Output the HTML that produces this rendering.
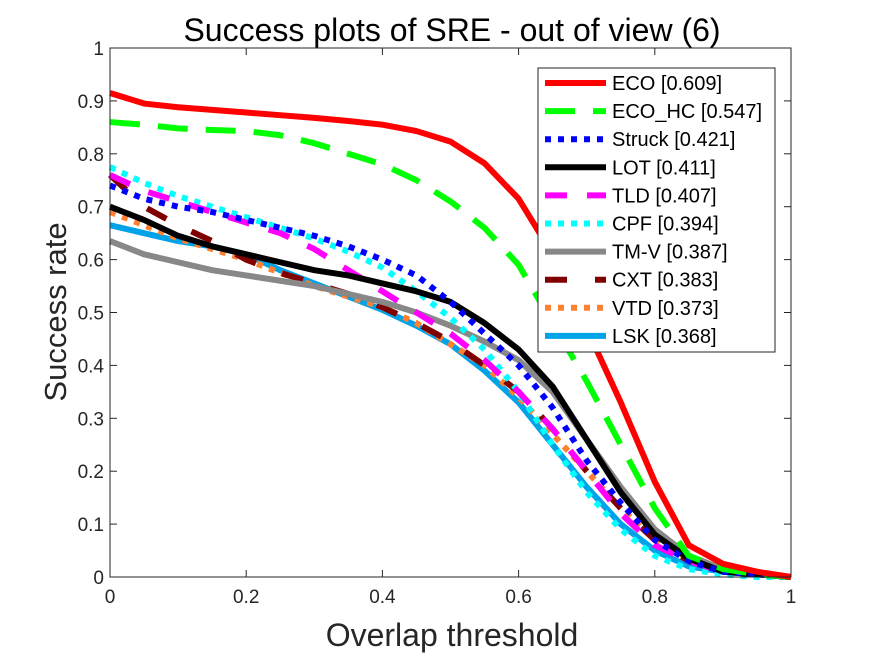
<!DOCTYPE html>
<html><head><meta charset="utf-8"><style>
body{margin:0;background:#fff}
svg text{font-family:"Liberation Sans",sans-serif}
</style></head><body>
<svg id="chart" width="875" height="656" xmlns="http://www.w3.org/2000/svg">
<rect width="875" height="656" fill="#fff"/>
<text x="452" y="41" font-size="32" text-anchor="middle">Success plots of SRE - out of view (6)</text>
<g id="ticks"></g>
<g id="series"></g>
<rect x="110" y="48" width="681" height="529" fill="none" stroke="#262626" stroke-width="1"/>
<text x="452" y="646" font-size="32" text-anchor="middle" fill="#262626">Overlap threshold</text>
<text transform="translate(66,312) rotate(-90)" font-size="31" text-anchor="middle" fill="#262626">Success rate</text>
<g id="legend"></g>
</svg>
<script>
const thresholds=[0,0.05,0.1,0.15,0.2,0.25,0.3,0.35,0.4,0.45,0.5,0.55,0.6,0.65,0.7,0.75,0.8,0.85,0.9,0.95,1];
const names=["ECO [0.609]","ECO_HC [0.547]","Struck [0.421]","LOT [0.411]","TLD [0.407]","CPF [0.394]","TM-V [0.387]","CXT [0.383]","VTD [0.373]","LSK [0.368]"];
const ecoVals=[0.915,0.895,0.888,0.883,0.878,0.873,0.868,0.862,0.855,0.843,0.823,0.782,0.715,0.61,0.47,0.33,0.18,0.06,0.025,0.01,0];
const ecohcVals=[0.86,0.855,0.848,0.845,0.843,0.835,0.82,0.8,0.78,0.75,0.71,0.66,0.59,0.48,0.37,0.25,0.13,0.04,0.015,0.005,0];
const struckVals=[0.74,0.715,0.7,0.69,0.675,0.66,0.645,0.625,0.6,0.57,0.52,0.46,0.4,0.32,0.22,0.14,0.07,0.03,0.01,0.005,0];
const lotVals=[0.7,0.675,0.645,0.625,0.61,0.595,0.58,0.57,0.555,0.54,0.52,0.48,0.43,0.36,0.26,0.16,0.08,0.035,0.01,0.005,0];
const tldVals=[0.76,0.73,0.71,0.69,0.67,0.65,0.62,0.58,0.54,0.5,0.46,0.41,0.35,0.28,0.2,0.12,0.06,0.03,0.01,0.005,0];
const cpfVals=[0.775,0.745,0.72,0.7,0.68,0.66,0.64,0.615,0.585,0.54,0.49,0.43,0.35,0.25,0.16,0.09,0.04,0.015,0.005,0,0];
const tmvVals=[0.635,0.61,0.595,0.58,0.57,0.56,0.55,0.535,0.52,0.5,0.475,0.445,0.41,0.35,0.26,0.17,0.09,0.04,0.015,0.005,0];
const cxtVals=[0.76,0.7,0.665,0.635,0.6,0.575,0.555,0.535,0.51,0.48,0.445,0.4,0.35,0.28,0.2,0.13,0.07,0.03,0.015,0.005,0];
const vtdVals=[0.69,0.665,0.64,0.62,0.6,0.575,0.55,0.53,0.51,0.48,0.44,0.4,0.34,0.27,0.2,0.13,0.07,0.035,0.02,0.01,0];
const lskVals=[0.665,0.65,0.635,0.625,0.61,0.58,0.555,0.53,0.505,0.475,0.44,0.39,0.33,0.25,0.17,0.1,0.05,0.02,0.01,0.005,0];
const xTicks=[0,0.2,0.4,0.6,0.8,1];
const xTickLabels=["0","0.2","0.4","0.6","0.8","1"];
const yTicks=[0,0.1,0.2,0.3,0.4,0.5,0.6,0.7,0.8,0.9,1];
const yTickLabels=["0","0.1","0.2","0.3","0.4","0.5","0.6","0.7","0.8","0.9","1"];

const NS="http://www.w3.org/2000/svg";
const X0=110,X1=791,Y0=577,Y1=48;
const xs=v=>X0+v*(X1-X0);
const ys=v=>Y0-v*(Y0-Y1);
const series=[ecoVals,ecohcVals,struckVals,lotVals,tldVals,cpfVals,tmvVals,cxtVals,vtdVals,lskVals];
const colors=["#ff0000","#00ff00","#0000ff","#000000","#ff00ff","#00ffff","#888888","#800000","#ff8030","#00a2e8"];
const dashes=["","30 18","6 7","","22 10 0 10","6 7","","22 14 0 14","6 7",""];
const slugs=["eco","eco-hc","struck","lot","tld","cpf","tm-v","cxt","vtd","lsk"];

const tg=document.getElementById('ticks');
xTicks.forEach((t,i)=>{
  const l=document.createElementNS(NS,'line');
  l.setAttribute('x1',xs(t));l.setAttribute('x2',xs(t));l.setAttribute('y1',Y0);l.setAttribute('y2',Y0-7);
  l.setAttribute('stroke','#262626');
  
  
  tg.appendChild(l);
  const l2=document.createElementNS(NS,'line');
  l2.setAttribute('x1',xs(t));l2.setAttribute('x2',xs(t));l2.setAttribute('y1',Y1);l2.setAttribute('y2',Y1+7);
  l2.setAttribute('stroke','#262626');
  
  
  tg.appendChild(l2);
  const tx=document.createElementNS(NS,'text');
  tx.setAttribute('x',xs(t));tx.setAttribute('y',Y0+26);tx.setAttribute('font-size','19');tx.setAttribute('text-anchor','middle');tx.setAttribute('fill','#262626');
  tx.textContent=xTickLabels[i];
  
  
  tg.appendChild(tx);
});
yTicks.forEach((t,i)=>{
  const l=document.createElementNS(NS,'line');
  l.setAttribute('x1',X0);l.setAttribute('x2',X0+7);l.setAttribute('y1',ys(t));l.setAttribute('y2',ys(t));
  l.setAttribute('stroke','#262626');
  
  
  tg.appendChild(l);
  const l2=document.createElementNS(NS,'line');
  l2.setAttribute('x1',X1);l2.setAttribute('x2',X1-7);l2.setAttribute('y1',ys(t));l2.setAttribute('y2',ys(t));
  l2.setAttribute('stroke','#262626');
  
  
  tg.appendChild(l2);
  const tx=document.createElementNS(NS,'text');
  tx.setAttribute('x',X0-6);tx.setAttribute('y',ys(t)+7);tx.setAttribute('font-size','19');tx.setAttribute('text-anchor','end');tx.setAttribute('fill','#262626');
  tx.textContent=yTickLabels[i];
  
  
  tg.appendChild(tx);
});

const sg=document.getElementById('series');
for(let k=series.length-1;k>=0;k--){
  const p=document.createElementNS(NS,'polyline');
  p.setAttribute('points',thresholds.map((t,i)=>xs(t)+','+ys(series[k][i])).join(' '));
  p.setAttribute('fill','none');p.setAttribute('stroke',colors[k]);p.setAttribute('stroke-width','6');
  p.setAttribute('stroke-linejoin','round');
  if(dashes[k])p.setAttribute('stroke-dasharray',dashes[k]);
  
  
  sg.appendChild(p);
}

const lg=document.getElementById('legend');
const box=document.createElementNS(NS,'rect');
box.setAttribute('x',538);box.setAttribute('y',68);box.setAttribute('width',237);box.setAttribute('height',284);
box.setAttribute('fill','#fff');box.setAttribute('stroke','#262626');


lg.appendChild(box);
names.forEach((n,k)=>{
  const y=83+k*28.1;
  const l=document.createElementNS(NS,'line');
  l.setAttribute('x1',545);l.setAttribute('x2',606);l.setAttribute('y1',y);l.setAttribute('y2',y);
  l.setAttribute('stroke',colors[k]);l.setAttribute('stroke-width','6');
  if(dashes[k])l.setAttribute('stroke-dasharray',dashes[k]);
  
  
  lg.appendChild(l);
  const tx=document.createElementNS(NS,'text');
  tx.setAttribute('x',612);tx.setAttribute('y',y+7);tx.setAttribute('font-size','20');tx.setAttribute('fill','#000');
  tx.textContent=n;
  
  
  lg.appendChild(tx);
});
</script>
</body></html>
